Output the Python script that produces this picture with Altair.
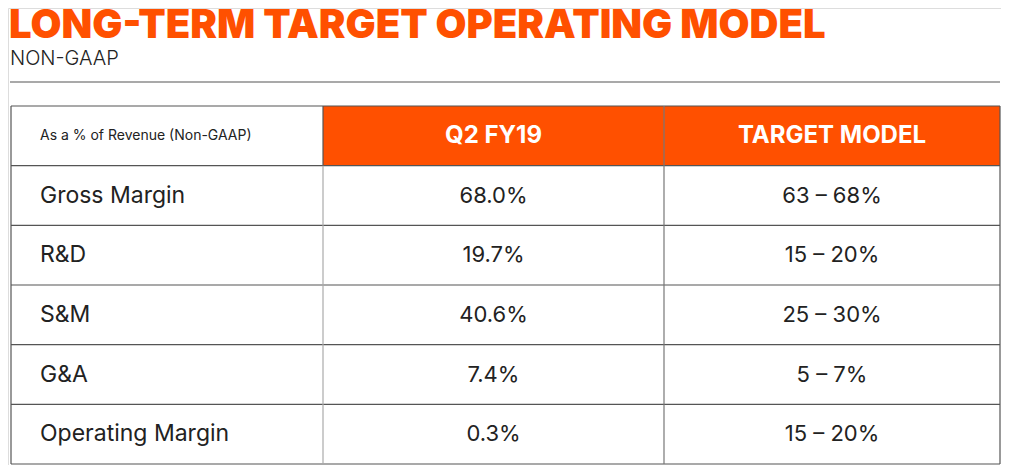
import altair as alt
import pandas as pd

# ---- data ----
title_text = "LONG-TERM TARGET OPERATING MODEL"
subtitle_text = "NON-GAAP"
row_labels = ["Gross Margin", "R&D", "S&M", "G&A", "Operating Margin"]
q2_fy19 = [68.0, 19.7, 40.6, 7.4, 0.3]
target_low = [63, 15, 25, 5, 15]
target_high = [68, 20, 30, 7, 20]
header_labels = ["As a % of Revenue (Non-GAAP)", "Q2 FY19", "TARGET MODEL"]

# ---- layout / style ----
ORANGE = "#FF5000"
TEXT = "#222222"
FONT = "Inter"
W = 993
H = 457
col_edges = [3, 315, 656, 992]
table_top = 98
table_bottom = 456
n_rows = len(row_labels) + 1
row_h = (table_bottom - table_top) / n_rows
label_inset = 29

def row_top(i):
    return table_top + i * row_h

def row_mid(i):
    return table_top + (i + 0.5) * row_h

def col_mid(j):
    return (col_edges[j] + col_edges[j + 1]) / 2

# cells text
left_texts, center_texts, header_small, header_big = [], [], [], []
header_small.append(dict(x=col_edges[0] + label_inset, y=row_mid(0), t=header_labels[0]))
for j in (1, 2):
    header_big.append(dict(x=col_mid(j), y=row_mid(0), t=header_labels[j]))
for i, lab in enumerate(row_labels):
    left_texts.append(dict(x=col_edges[0] + label_inset, y=row_mid(i + 1), t=lab))
    center_texts.append(dict(x=col_mid(1), y=row_mid(i + 1), t=f"{q2_fy19[i]:.1f}%"))
    center_texts.append(dict(x=col_mid(2), y=row_mid(i + 1), t=f"{target_low[i]} \u2013 {target_high[i]}%"))

# header fill
fills = pd.DataFrame([dict(x=col_edges[1], x2=col_edges[3], y=row_top(0), y2=row_top(1))])

# grid lines
segs = []
for i in range(n_rows + 1):
    segs.append(dict(x=col_edges[0], x2=col_edges[3], y=row_top(i), y2=row_top(i), c="#555555"))
segs.append(dict(x=col_edges[0], x2=col_edges[0], y=row_top(0), y2=table_bottom, c="#555555"))
segs.append(dict(x=col_edges[3], x2=col_edges[3], y=row_top(0), y2=table_bottom, c="#555555"))
segs.append(dict(x=col_edges[1], x2=col_edges[1], y=row_top(0), y2=row_top(1), c="#555555"))
segs.append(dict(x=col_edges[1], x2=col_edges[1], y=row_top(1), y2=table_bottom, c="#aaaaaa"))
segs.append(dict(x=col_edges[2], x2=col_edges[2], y=row_top(0), y2=table_bottom, c="#777777"))
# rule under subtitle
segs.append(dict(x=2, x2=992, y=74, y2=74, c="#555555"))
segs = pd.DataFrame(segs)

titles = pd.DataFrame([dict(x=1, y=30.2, t=title_text)])
subtitles = pd.DataFrame([dict(x=2, y=57, t=subtitle_text)])

xs = alt.Scale(domain=[0, W], nice=False, zero=False)
ys = alt.Scale(domain=[0, H], nice=False, zero=False, reverse=True)

X = lambda f: alt.X(f, type="quantitative", scale=xs, axis=None)
Y = lambda f: alt.Y(f, type="quantitative", scale=ys, axis=None)

rect = alt.Chart(fills).mark_rect(color=ORANGE).encode(
    x=X("x"), x2="x2", y=Y("y"), y2="y2"
)
lines = alt.Chart(segs).mark_rule(strokeWidth=1.2).encode(
    x=X("x"), x2="x2", y=Y("y"), y2="y2", color=alt.Color("c:N", scale=None)
)
t_title = alt.Chart(titles).mark_text(
    align="left", baseline="alphabetic", font=FONT, fontSize=40, fontWeight=900, color=ORANGE
).encode(x=X("x"), y=Y("y"), text="t:N")
t_sub = alt.Chart(subtitles).mark_text(
    align="left", baseline="alphabetic", font=FONT, fontSize=20, fontWeight=300, color=TEXT
).encode(x=X("x"), y=Y("y"), text="t:N")
t_hs = alt.Chart(pd.DataFrame(header_small)).mark_text(
    align="left", baseline="middle", font=FONT, fontSize=14, color=TEXT
).encode(x=X("x"), y=Y("y"), text="t:N")
t_hb = alt.Chart(pd.DataFrame(header_big)).mark_text(
    align="center", baseline="middle", font=FONT, fontSize=24, fontWeight=700, color="white"
).encode(x=X("x"), y=Y("y"), text="t:N")
t_left = alt.Chart(pd.DataFrame(left_texts)).mark_text(
    align="left", baseline="middle", font=FONT, fontSize=23, color=TEXT
).encode(x=X("x"), y=Y("y"), text="t:N")
t_center = alt.Chart(pd.DataFrame(center_texts)).mark_text(
    align="center", baseline="middle", font=FONT, fontSize=22, color=TEXT
).encode(x=X("x"), y=Y("y"), text="t:N")

chart = alt.layer(rect, lines, t_title, t_sub, t_hs, t_hb, t_left, t_center).properties(
    width=W,
    height=H,
    padding=0,
    autosize=alt.AutoSizeParams(type="none"),
).configure_view(stroke=None).configure(background="white")

chart.save("out.html", embed_options={"renderer": "svg", "actions": False})
